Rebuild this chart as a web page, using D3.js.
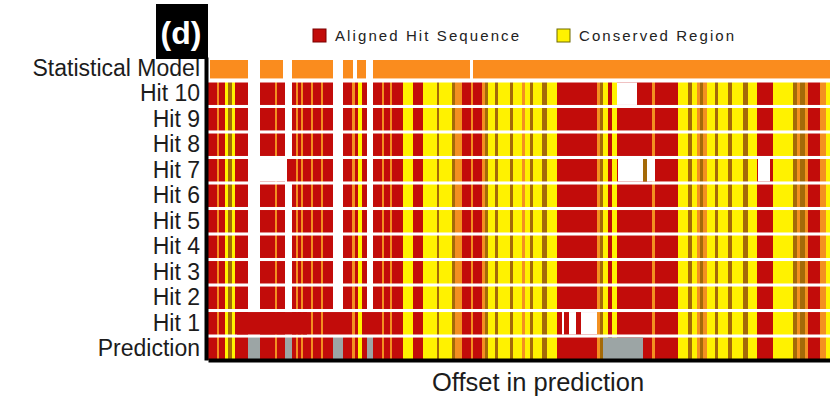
<!DOCTYPE html>
<html>
<head>
<meta charset="utf-8">
<script src="https://cdn.jsdelivr.net/npm/d3@7"></script>
<style>
  body { margin: 0; background: #fff; }
  svg { display: block; font-family: "Liberation Sans", Arial, sans-serif; }
</style>
</head>
<body>
<div id="grafica"></div>
<script>
// filas (de arriba a abajo)
const filas = ["Statistical Model", "Hit 10", "Hit 9", "Hit 8", "Hit 7", "Hit 6",
  "Hit 5", "Hit 4", "Hit 3", "Hit 2", "Hit 1", "Prediction"];

// columnas del alineamiento: [inicio, fin, tipo] (offset en la prediccion)
// R = alineado, Y = conservado, O = naranja, D = oscuro, G = hueco
const columnas = [
  [0, 9, "R"], [9, 11, "O"], [11, 17, "R"], [17, 20, "Y"], [20, 24, "D"], [24, 27, "Y"],
  [27, 40, "R"], [40, 52, "G"], [52, 67, "R"], [67, 69, "O"], [69, 77, "R"], [77, 84, "G"],
  [84, 88, "R"], [88, 90, "O"], [90, 93, "R"], [93, 95, "O"], [95, 103, "R"], [103, 105, "O"],
  [105, 113, "R"], [113, 115, "O"], [115, 125, "R"], [125, 135, "G"], [135, 144, "R"],
  [144, 147, "O"], [147, 150, "R"], [150, 154, "Y"], [154, 159, "R"], [159, 165, "G"],
  [165, 174, "R"], [174, 176, "O"], [176, 182, "R"], [182, 184, "O"], [184, 195, "R"],
  [195, 205, "Y"], [205, 215, "R"], [215, 229, "Y"], [229, 231, "D"], [231, 244, "Y"],
  [244, 247, "D"], [247, 254, "O"], [254, 263, "R"], [263, 265, "O"], [265, 274, "R"],
  [274, 277, "O"], [277, 280, "D"], [280, 287, "Y"], [287, 290, "D"], [290, 302, "Y"],
  [302, 305, "D"], [305, 314, "Y"], [314, 317, "O"], [317, 322, "Y"], [322, 325, "D"],
  [325, 334, "Y"], [334, 339, "D"], [339, 349, "Y"], [349, 389, "R"], [389, 392, "O"],
  [392, 395, "D"], [395, 400, "Y"], [400, 404, "R"], [404, 409, "Y"], [409, 444, "R"],
  [444, 447, "O"], [447, 470, "R"], [470, 480, "Y"], [480, 484, "D"], [484, 489, "Y"],
  [489, 492, "O"], [492, 495, "D"], [495, 499, "O"], [499, 507, "Y"], [507, 510, "D"],
  [510, 520, "Y"], [520, 524, "D"], [524, 535, "Y"], [535, 540, "D"], [540, 549, "Y"],
  [549, 565, "R"], [565, 585, "Y"], [585, 589, "D"], [589, 592, "O"], [592, 597, "D"],
  [597, 600, "O"], [600, 612, "R"], [612, 618, "O"], [618, 622, "Y"]
];

// tramos cubiertos por el modelo estadistico
const modelo = [[2, 40], [52, 75], [84, 125], [135, 145], [149, 158], [165, 262], [265, 622]];

// excepciones por fila: W = sin alinear, P = sin prediccion
const excepciones = {
  "Hit 10": [[409, 429, "W"]],
  "Hit 7": [[42, 79, "W"], [79, 84, "R"], [410, 435, "W"], [435, 439, "D"], [439, 447, "W"], [550, 562, "W"]],
  "Hit 1": [[29, 99, "R"], [125, 135, "R"], [159, 165, "R"], [354, 356, "W"], [361, 368, "W"], [373, 389, "W"]],
  "Prediction": [[395, 435, "P"]]
};

const leyenda = [
  { nombre: "Aligned Hit Sequence", tipo: "R" },
  { nombre: "Conserved Region", tipo: "Y" }
];

const colores = {
  R: "#c20c0a", Y: "#fff200", O: "#f39020", D: "#a46a08",
  W: "#ffffff", P: "#9ca5a5", M: "#fa8c1e"
};

const ancho = 830, alto = 397;

const svg = d3.select("#grafica")
  .append("svg")
  .attr("width", ancho)
  .attr("height", alto);

// escalas
const x = d3.scaleLinear().domain([0, 622]).range([208, 830]);
const y = d3.scaleBand().domain(filas).range([57, 360]).paddingInner(0.12);

// modelo estadistico
svg.append("g")
  .selectAll("rect")
  .data(modelo)
  .join("rect")
  .attr("x", d => x(d[0]))
  .attr("width", d => x(d[1]) - x(d[0]))
  .attr("y", y(filas[0]) + 3)
  .attr("height", y.bandwidth() - 4)
  .attr("fill", colores.M);

// filas de hits y prediccion
const gFilas = svg.append("g")
  .selectAll("g")
  .data(filas.slice(1))
  .join("g")
  .attr("transform", d => `translate(0,${y(d)})`);

const tipoCelda = (fila, tipo) => tipo === "G" ? (fila === "Prediction" ? "P" : "W") : tipo;

gFilas.selectAll("rect.col")
  .data(f => columnas.map(c => ({ f, c })))
  .join("rect")
  .attr("class", "col")
  .attr("x", d => x(d.c[0]))
  .attr("width", d => x(d.c[1]) - x(d.c[0]))
  .attr("height", y.bandwidth())
  .attr("fill", d => colores[tipoCelda(d.f, d.c[2])]);

gFilas.selectAll("rect.exc")
  .data(f => excepciones[f] || [])
  .join("rect")
  .attr("class", "exc")
  .attr("x", d => x(d[0]))
  .attr("width", d => x(d[1]) - x(d[0]))
  .attr("height", y.bandwidth())
  .attr("fill", d => colores[d[2]]);

// ejes
svg.append("g")
  .attr("transform", "translate(206,0)")
  .call(d3.axisLeft(y).tickSize(0).tickPadding(6))
  .call(g => g.select(".domain").attr("stroke", "#000").attr("stroke-width", 4))
  .call(g => g.selectAll("text")
    .attr("font-size", 23)
    .attr("font-family", "Liberation Sans, Arial, sans-serif")
    .attr("fill", "#1c1c1c"));

svg.append("g")
  .attr("transform", "translate(0,360)")
  .call(d3.axisBottom(x).tickValues([]).tickSizeOuter(0))
  .call(g => g.select(".domain").attr("stroke", "#000").attr("stroke-width", 4));

svg.append("text")
  .attr("x", 538)
  .attr("y", 391)
  .attr("text-anchor", "middle")
  .attr("font-size", 25.5)
  .attr("fill", "#1c1c1c")
  .text("Offset in prediction");

// etiqueta del panel
svg.append("rect")
  .attr("x", 156).attr("y", 4)
  .attr("width", 52).attr("height", 55)
  .attr("fill", "#000");

svg.append("text")
  .attr("x", 181)
  .attr("y", 44)
  .attr("text-anchor", "middle")
  .attr("font-size", 32)
  .attr("font-weight", "bold")
  .attr("fill", "#fff")
  .text("(d)");

// leyenda
const posLeyenda = [313, 557];
const anchoTexto = [184, 155];
const gLeyenda = svg.append("g")
  .selectAll("g")
  .data(leyenda)
  .join("g")
  .attr("transform", (d, i) => `translate(${posLeyenda[i]},29)`);

gLeyenda.append("rect")
  .attr("width", 13).attr("height", 13)
  .attr("fill", d => colores[d.tipo])
  .attr("stroke", d => d.tipo === "R" ? "#7a0000" : "#6f6a00")
  .attr("stroke-width", 1);

gLeyenda.append("text")
  .attr("x", 22)
  .attr("y", 12)
  .attr("font-size", 15)
  .attr("fill", "#222")
  .attr("textLength", (d, i) => anchoTexto[i])
  .attr("lengthAdjust", "spacing")
  .text(d => d.nombre);
</script>
</body>
</html>
